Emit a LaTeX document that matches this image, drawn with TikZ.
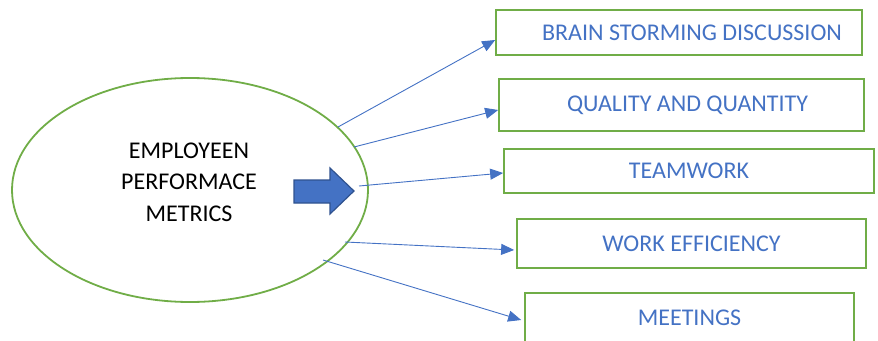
\documentclass[tikz,border=0pt]{standalone}
\usepackage{fontspec}
\setmainfont{Carlito}
\usetikzlibrary{arrows.meta,shapes.geometric}
\definecolor{boxgreen}{HTML}{70AD47}
\definecolor{metricblue}{HTML}{4472C4}
\definecolor{darkblue}{HTML}{2F528F}
\tikzset{
  metric/.style={draw=boxgreen, line width=1.7pt, text=metricblue,
    font=\fontsize{24}{28}\selectfont, inner sep=0pt},
  conn/.style={draw=metricblue, line width=0.9pt,
    -{Triangle[length=13pt,width=11pt]}},
}
\begin{document}
\begin{tikzpicture}[x=1pt,y=-1pt]
\clip (0,0) rectangle (878,340);
% Main ellipse
\node[ellipse, draw=boxgreen, line width=1.8pt, minimum width=356pt,
  minimum height=224pt, inner sep=0pt] (emp) at (190,190) {};
\node[align=center, font=\fontsize{24}{31.5}\selectfont] (emptxt) at (189,182)
  {EMPLOYEEN\\PERFORMACE\\METRICS};
% Block arrow
\draw[fill=metricblue, draw=darkblue, line width=1.2pt, line join=miter]
  (294,180) -- (330,180) -- (330,168) -- (354,191) -- (330,214)
  -- (330,203) -- (294,203) -- cycle;
% Metric boxes
\node[metric, minimum width=366pt, minimum height=45pt] (b1) at (679,32.5) {\hspace*{26pt}BRAIN STORMING DISCUSSION};
\node[metric, minimum width=365pt, minimum height=52pt] (b2) at (681.5,105) {\hspace*{12pt}QUALITY AND QUANTITY};
\node[metric, minimum width=370pt, minimum height=44pt] (b3) at (689,171) {TEAMWORK};
\node[metric, minimum width=349pt, minimum height=49pt] (b4) at (691.5,243.5) {WORK EFFICIENCY};
\node[metric, minimum width=329pt, minimum height=50pt] (b5) at (689.5,318) {MEETINGS};
% Start points on the ellipse
\coordinate (s1) at (338,127);
\coordinate (s2) at (354,147);
\coordinate (s3) at (359,186);
\coordinate (s4) at (345,242);
\coordinate (s5) at (323,260);
% Connectors
\draw[conn] (s1) -- ([yshift=-7.5pt]b1.west);
\draw[conn] (s2) -- ([yshift=-5pt]b2.west);
\draw[conn] (s3) -- ([yshift=-2pt]b3.west);
\draw[conn] (s4) -- ([yshift=-6.5pt,xshift=-2pt]b4.west);
\draw[conn] (s5) -- ([yshift=-2pt,xshift=-3pt]b5.west);
\end{tikzpicture}
\end{document}
